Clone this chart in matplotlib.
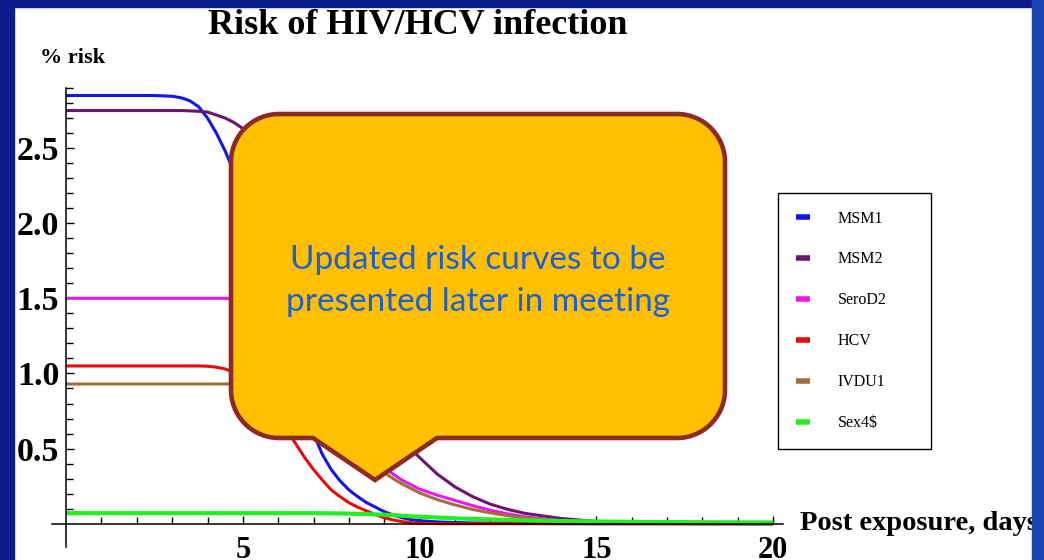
import numpy as np
import matplotlib
matplotlib.use('Agg')
import matplotlib.pyplot as plt
import matplotlib.transforms as mtransforms
from matplotlib.patches import Polygon, Rectangle
from matplotlib.ticker import FixedLocator

# Risk (%), days after exposure.
days = [0, 1, 2, 2.5,
        3, 3.25, 3.5, 3.75, 4, 4.25, 4.5, 4.75,
        5, 5.25, 5.5, 5.75, 6, 6.25, 6.5, 6.75,
        7, 7.25, 7.5, 7.75, 8, 8.25, 8.5, 8.75,
        9, 9.25, 9.5, 9.75, 10,
        10.5, 11, 11.5, 12, 12.5, 13,
        14, 15, 16, 18, 20]
msm1 = [2.85, 2.85, 2.85, 2.85,
        2.845, 2.835, 2.815, 2.775, 2.70, 2.60, 2.48, 2.34,
        2.18, 2.0, 1.80, 1.59, 1.38, 1.17, 0.97, 0.78,
        0.60, 0.46, 0.36, 0.285, 0.225, 0.18, 0.14, 0.11,
        0.08, 0.058, 0.04, 0.028, 0.02,
        0.012, 0.008, 0.005, 0.004, 0.003, 0.002,
        0.001, 0, 0, 0, 0]
msm2 = [2.75, 2.75, 2.75, 2.75,
        2.75, 2.75, 2.748, 2.745, 2.74, 2.72, 2.70, 2.67,
        2.63, 2.58, 2.51, 2.43, 2.34, 2.23, 2.11, 1.98,
        1.84, 1.70, 1.55, 1.40, 1.26, 1.12, 0.99, 0.87,
        0.76, 0.66, 0.57, 0.50, 0.44,
        0.33, 0.245, 0.18, 0.13, 0.095, 0.068,
        0.035, 0.015, 0.006, 0.001, 0]
serod2 = [1.5, 1.5, 1.5, 1.5,
          1.5, 1.5, 1.5, 1.5, 1.5, 1.5, 1.5, 1.498,
          1.495, 1.485, 1.47, 1.44, 1.40, 1.34, 1.27, 1.18,
          1.08, 0.98, 0.88, 0.78, 0.68, 0.59, 0.51, 0.44,
          0.38, 0.33, 0.29, 0.26, 0.23,
          0.19, 0.155, 0.12, 0.09, 0.065, 0.045,
          0.02, 0.008, 0.003, 0, 0]
hcv = [1.05, 1.05, 1.05, 1.05,
       1.05, 1.05, 1.05, 1.05, 1.048, 1.042, 1.03, 1.005,
       0.97, 0.92, 0.86, 0.79, 0.71, 0.62, 0.53, 0.44,
       0.36, 0.29, 0.225, 0.18, 0.14, 0.11, 0.085, 0.06,
       0.04, 0.025, 0.014, 0.007, 0.003,
       0, 0, 0, 0, 0, 0,
       0, 0, 0, 0, 0]
ivdu1 = [0.93, 0.93, 0.93, 0.93,
         0.93, 0.93, 0.93, 0.93, 0.93, 0.93, 0.93, 0.93,
         0.93, 0.929, 0.926, 0.92, 0.91, 0.89, 0.865, 0.83,
         0.79, 0.74, 0.68, 0.62, 0.56, 0.50, 0.44, 0.39,
         0.34, 0.30, 0.265, 0.235, 0.205,
         0.16, 0.125, 0.095, 0.072, 0.053, 0.038,
         0.018, 0.007, 0.003, 0, 0]
sex4 = [0.07, 0.07, 0.07, 0.07,
        0.07, 0.07, 0.07, 0.07, 0.07, 0.07, 0.07, 0.07,
        0.07, 0.07, 0.07, 0.07, 0.07, 0.07, 0.07, 0.07,
        0.07, 0.0695, 0.069, 0.068, 0.067, 0.0655, 0.064, 0.062,
        0.06, 0.057, 0.053, 0.049, 0.046,
        0.041, 0.036, 0.032, 0.028, 0.025, 0.022,
        0.018, 0.015, 0.012, 0.01, 0.008]

series = [msm1, msm2, serod2, hcv, ivdu1, sex4]
labels = ['MSM1', 'MSM2', 'SeroD2', 'HCV', 'IVDU1', 'Sex4\\$']
colors = ['#1414e6', '#6a1670', '#f014f0', '#e80a0a', '#a0703c', '#22ee22']
widths = [2.2, 2.2, 2.2, 2.2, 2.2, 3.0]

W, H = 1044, 560
fig = plt.figure(figsize=(W / 100, H / 100), dpi=100, facecolor='white')
# image pixel coordinates (y pointing down) for slide decorations
px = mtransforms.Affine2D().scale(1 / W, -1 / H).translate(0, 1) + fig.transFigure

ax = fig.add_axes([52 / W, 13 / H, 731 / W, 459 / H])
for y, lab, c, lw in zip(series, labels, colors, widths):
    ax.plot(days, y, color=c, lw=lw, label=lab, solid_capstyle='butt')

ax.set_xlim(-0.4, 20.28)
ax.set_ylim(-0.155, 2.9)
ax.spines[['top', 'right']].set_visible(False)
ax.spines['left'].set_position(('data', 0))
ax.spines['bottom'].set_position(('data', 0))
for s in ('left', 'bottom'):
    ax.spines[s].set_linewidth(1.1)

ax.xaxis.set_major_locator(FixedLocator([5, 10, 15, 20]))
ax.xaxis.set_minor_locator(FixedLocator(np.arange(1, 20)))
ax.yaxis.set_major_locator(FixedLocator([0.5, 1.0, 1.5, 2.0, 2.5]))
ax.yaxis.set_minor_locator(FixedLocator(np.arange(1, 30) / 10))
ax.set_yticklabels(['0.5', '1.0', '1.5', '2.0', '2.5'])
ax.tick_params(which='both', direction='in', color='black', width=1)
ax.tick_params(which='major', length=6)
ax.tick_params(which='minor', length=5)
ax.tick_params(axis='x', pad=9, labelsize=22)
ax.tick_params(axis='y', pad=5, labelsize=24.5)
for t in ax.get_xticklabels() + ax.get_yticklabels():
    t.set_family('Liberation Serif')
    t.set_fontweight('bold')

leg = ax.legend(loc='upper left', bbox_to_anchor=(778 / W, 1 - 193 / H, 153 / W, 0),
                bbox_transform=fig.transFigure, mode='expand', borderaxespad=0,
                prop={'family': 'Liberation Serif', 'size': 11.5},
                handlelength=0.9, handletextpad=1.75, labelspacing=1.56,
                borderpad=1.1, fancybox=False, framealpha=1, edgecolor='black')
leg.get_frame().set_linewidth(1.0)
for h in leg.get_lines():
    h.set_linewidth(4)

serif = 'Liberation Serif'
fig.text(418 / W, 1 - 34 / H, 'Risk of HIV/HCV infection', ha='center', va='baseline',
         family=serif, weight='bold', fontsize=26)
fig.text(40 / W, 1 - 63 / H, '% risk', ha='left', va='baseline',
         family=serif, weight='bold', fontsize=16)
fig.text(800 / W, 1 - 530 / H, 'Post exposure, days', ha='left', va='baseline',
         family=serif, weight='bold', fontsize=20.5)

# callout: rounded box with a pointer at the bottom
L, R, T, B, r = 231, 725, 114, 438, 48
def arc(cx, cy, a0, a1):
    a = np.radians(np.linspace(a0, a1, 20))
    return np.column_stack([cx + r * np.cos(a), cy + r * np.sin(a)])
verts = np.vstack([
    [[L + r, T], [R - r, T]],
    arc(R - r, T + r, -90, 0),
    arc(R - r, B - r, 0, 90),
    [[437, B], [375, 480], [313, B]],
    arc(L + r, B - r, 90, 180),
    arc(L + r, T + r, 180, 270),
])
fig.patches.append(Polygon(verts, closed=True, transform=px, facecolor='#ffc000',
                           edgecolor='#8c2a24', lw=3.3, joinstyle='miter', zorder=5))
fig.text(478 / W, 1 - 281 / H, 'Updated risk curves to be\npresented later in meeting',
         ha='center', va='center', color='#1f5fd6', family='Lato', fontsize=24,
         linespacing=1.5, zorder=6)

# slide frame
fig.patches.append(Rectangle((0, 0), 14, H, transform=px, color='#0a1d8c', zorder=10))
fig.patches.append(Rectangle((0, 0), W, 7, transform=px, color='#0a1d8c', zorder=10))
fig.patches.append(Rectangle((1032, 0), 12, H, transform=px, color='#1c43b4', zorder=10))

fig.savefig('out.png', dpi=100, facecolor='white')
